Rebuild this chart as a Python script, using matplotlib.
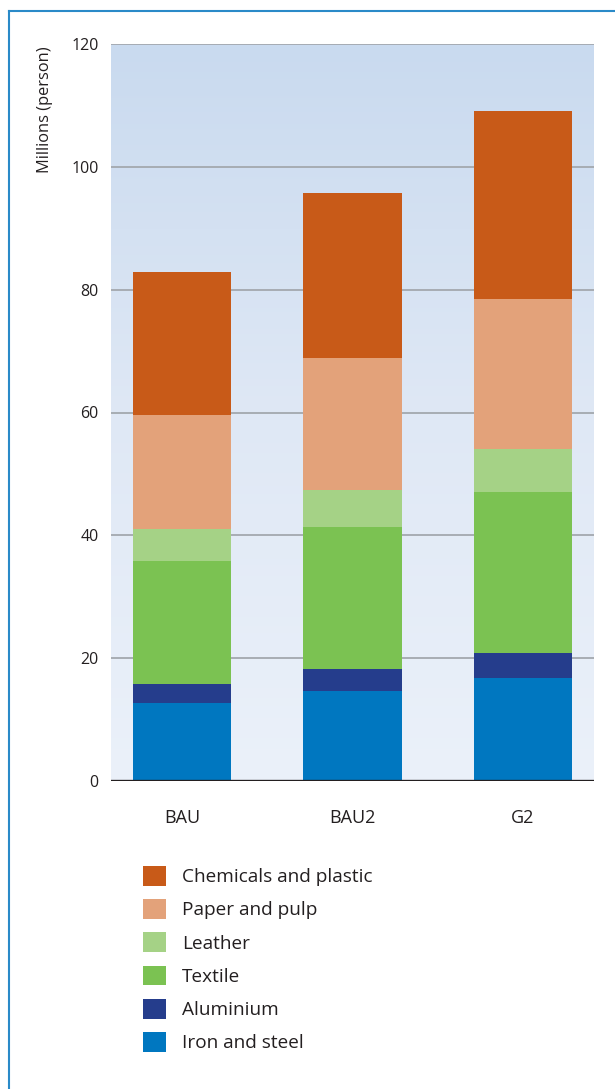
import numpy as np
import matplotlib
matplotlib.use("Agg")
import matplotlib.pyplot as plt
from matplotlib.colors import LinearSegmentedColormap
from matplotlib.lines import Line2D

plt.rcParams['font.family'] = ['Open Sans', 'DejaVu Sans']

# Scenarios and employment by sector (millions of persons)
scenarios = ["BAU", "BAU2", "G2"]
sectors = ["Iron and steel", "Aluminium", "Textile", "Leather",
           "Paper and pulp", "Chemicals and plastic"]
iron_steel = [12.7, 14.65, 16.8]
aluminium = [3.1, 3.55, 4.0]
textile = [20.0, 23.15, 26.2]
leather = [5.2, 6.05, 7.0]
paper_pulp = [18.6, 21.5, 24.5]
chemicals_plastic = [23.3, 26.8, 30.6]
y_ticks = [0, 20, 40, 60, 80, 100, 120]

series = [iron_steel, aluminium, textile, leather, paper_pulp, chemicals_plastic]
colors = ["#0077c0", "#253d8c", "#7bc252", "#a5d286", "#e3a27a", "#c85a18"]

W, H = 615, 1089
fig = plt.figure(figsize=(W / 100, H / 100), dpi=100)
fig.patch.set_facecolor("white")

ax = fig.add_axes([111 / W, 1 - 781 / H, (594 - 111) / W, (781 - 44) / H])
xlo, xhi = -0.416, 2.416
ax.set_xlim(xlo, xhi)
ax.set_ylim(0, 120)

# vertical gradient background of the plot area
grad = np.linspace(0, 1, 256).reshape(-1, 1)
cmap = LinearSegmentedColormap.from_list("bg", ["#ebf1fa", "#dfe8f5", "#c9daef"])
ax.imshow(grad, extent=(xlo, xhi, 0, 120), origin="lower", aspect="auto",
          cmap=cmap, zorder=0)

# horizontal gridlines
for t in y_ticks[1:]:
    ax.axhline(t, color="#a3a8ae", lw=1.3, zorder=1)
ax.axhline(0, color="#231f20", lw=2.4, zorder=4)

x = np.arange(len(scenarios))
bottom = np.zeros(len(scenarios))
handles = []
for vals, col, name in zip(series, colors, sectors):
    b = ax.bar(x, vals, width=0.575, bottom=bottom, color=col, label=name,
               zorder=3, linewidth=0)
    handles.append(b)
    bottom += np.array(vals)

for s in ax.spines.values():
    s.set_visible(False)
ax.set_yticks(y_ticks)
ax.set_yticklabels([str(t) for t in y_ticks], fontsize=11.5, color="#231f20")
ax.set_xticks(x)
ax.set_xticklabels(scenarios, fontsize=13, color="#231f20")
ax.tick_params(axis="y", length=0, pad=9)
ax.tick_params(axis="x", length=0, pad=20)

fig.text(45 / W, 1 - 46 / H, "Millions (person)", rotation=90, ha="center",
         va="top", fontsize=11.8, color="#231f20")

# legend, top entry first
fs = 13.7
fs_px = fs * 100 / 72
leg = fig.legend(handles[::-1], sectors[::-1], loc="upper left",
                 bbox_to_anchor=(143 / W, 1 - 866 / H), frameon=False,
                 fontsize=fs, handlelength=23 / fs_px, handleheight=23 / fs_px,
                 handletextpad=16 / fs_px, labelspacing=13 / fs_px,
                 borderpad=0, borderaxespad=0)
for t in leg.get_texts():
    t.set_color("#231f20")

# thin blue frame along the top and left edges
fig.add_artist(Line2D([9 / W, 9 / W], [0, 1 - 11 / H], transform=fig.transFigure,
                      color="#2a8ac8", lw=1.5))
fig.add_artist(Line2D([9 / W, 1], [1 - 11 / H, 1 - 11 / H], transform=fig.transFigure,
                      color="#2a8ac8", lw=1.5))

fig.savefig("out.png", dpi=100, facecolor="white")
